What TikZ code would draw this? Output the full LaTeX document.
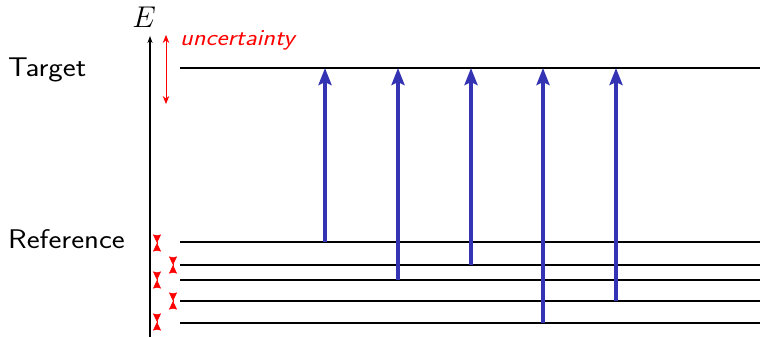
\documentclass[tikz,border=0pt]{standalone}
\usepackage{fix-cm}
\usepackage{fontspec}
\newfontfamily\lblfont{Latin Modern Sans}[FakeStretch=1.14]
\usetikzlibrary{arrows.meta}
\begin{document}
\begin{tikzpicture}[x=1pt,y=-1pt,
  level/.style={line width=1.3pt},
  trans/.style={line width=4pt,color=arrowblue,-{Stealth[length=17pt,width=13pt,inset=3pt]}},
  unc/.style={red,line width=0.9pt,{Stealth[length=8pt,width=6.5pt]}-{Stealth[length=8pt,width=6.5pt]}},
  umark/.style={red,line width=0.6pt,{Stealth[reversed,length=8.5pt,width=8pt,inset=1pt]}-{Stealth[reversed,length=8.5pt,width=8pt,inset=1pt]}},
  lbl/.style={font=\lblfont\fontsize{27}{30}\selectfont,anchor=base west,inner sep=0pt}]
\definecolor{arrowblue}{RGB}{51,51,179}
\useasboundingbox (0,0) rectangle (760,337);
% axis
\coordinate (ax0) at (150,337);
\coordinate (ax1) at (150,36);
\draw[line width=1.1pt,-{Stealth[length=7pt,width=5pt]}] (ax0) -- (ax1);
\node[inner sep=0pt,anchor=base,font=\fontsize{30}{32}\selectfont] (E) at (144,28) {$E$};
% labels
\node[lbl] (tl) at (8,76) {Target};
\node[lbl] (rl) at (8,248) {Reference};
% levels
\foreach \n/\y in {t/68,r1/242,r2/265,r3/280,r4/301,r5/323}{
  \coordinate (\n a) at (180,\y);
  \coordinate (\n b) at (760,\y);
  \draw[level] (\n a) -- (\n b);
}
% uncertainty
\coordinate (u0) at (166,35);
\coordinate (u1) at (166,104);
\draw[unc] (u0) -- (u1);
\node[red,anchor=base west,inner sep=0pt,font=\lblfont\itshape\fontsize{23}{26}\selectfont] (ut) at (180,46) {uncertainty};
% small uncertainty marks
\foreach \i/\x/\y in {1/157/243,2/173/265,3/157/280,4/173/301,5/157/322}{
  \coordinate (m\i a) at (\x,\y-8.5);
  \coordinate (m\i b) at (\x,\y+8.5);
  \draw[umark] (m\i a) -- (m\i b);
}
% transitions
\foreach \i/\x/\y in {1/325/242,2/398/280,3/471/265,4/543/323,5/616/301}{
  \coordinate (s\i) at (\x,\y);
  \coordinate (e\i) at (\x,68);
  \draw[trans] (s\i) -- (e\i);
}
\end{tikzpicture}
\end{document}
